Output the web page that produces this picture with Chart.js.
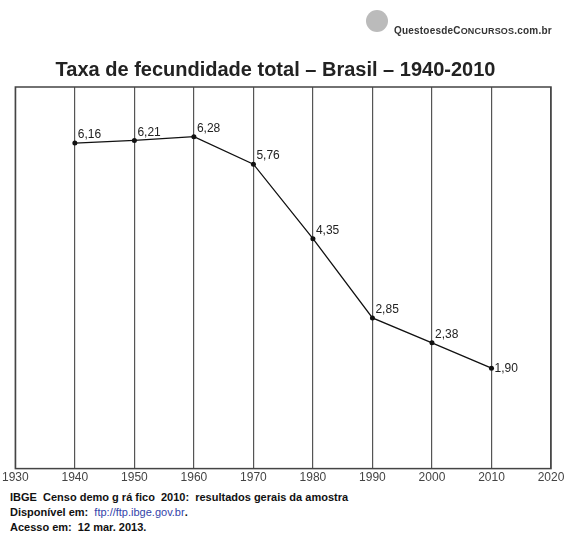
<!DOCTYPE html>
<html><head><meta charset="utf-8">
<script src="https://cdn.jsdelivr.net/npm/chart.js@4"></script>
<style>
body{margin:0;background:#fff;font-family:"Liberation Sans",Arial,sans-serif}
#wrap{position:relative;width:570px;height:487px}
#logo{position:absolute;left:362px;top:10px;width:200px;height:30px}
#logo .ic{position:absolute;left:4px;top:0;width:22px;height:22px;border-radius:50%;background:#bbb}
#logo .t{position:absolute;left:32px;top:15px;font-size:10px;font-weight:bold;color:#333;letter-spacing:0.2px}
#foot{position:absolute;left:10px;top:490px;font-size:11px;font-weight:bold;line-height:15px;color:#111}
#foot span{color:#3344aa;font-weight:normal}
</style></head><body>
<div id="wrap"><canvas id="c"></canvas>
<div id="logo"><div class="ic"></div><div class="t">QuestoesdeC<span style="font-size:9px">ONCURSOS</span>.com.br</div></div></div>
<div id="foot">IBGE&nbsp; Censo demo g rá fico&nbsp; 2010:&nbsp; resultados gerais da amostra<br>Disponível em:&nbsp; <span>ftp://ftp.ibge.gov.br</span>.<br>Acesso em:&nbsp; 12 mar. 2013.</div>
<script>
var years = [1940, 1950, 1960, 1970, 1980, 1990, 2000, 2010];
var rates = [6.16, 6.21, 6.28, 5.76, 4.35, 2.85, 2.38, 1.90];
var rateLabels = ['6,16', '6,21', '6,28', '5,76', '4,35', '2,85', '2,38', '1,90'];

var extras = {
  id: 'extras',
  afterDatasetsDraw: function(chart) {
    var ctx = chart.ctx, a = chart.chartArea;
    var xs = chart.scales.x, ys = chart.scales.y;
    ctx.save();
    ctx.strokeStyle = '#444'; ctx.lineWidth = 1.5;
    ctx.strokeRect(a.left, a.top, a.right - a.left, a.bottom - a.top);
    ctx.fillStyle = '#222'; ctx.font = '12px "Liberation Sans", Arial';
    ctx.textBaseline = 'middle'; ctx.textAlign = 'left';
    years.forEach(function(y, i) {
      var px = xs.getPixelForValue(y), py = ys.getPixelForValue(rates[i]);
      var dy = i === years.length - 1 ? 1 : -8;
      ctx.fillText(rateLabels[i], px + 3, py + dy);
    });
    ctx.restore();
  }
};

new Chart(document.getElementById('c'), {
  type: 'line',
  data: { datasets: [{
    data: years.map(function(y, i) { return { x: y, y: rates[i] }; }),
    borderColor: '#111', borderWidth: 1.3, backgroundColor: '#111',
    pointRadius: 2.5, pointBorderWidth: 0, tension: 0
  }]},
  options: {
    responsive: true, maintainAspectRatio: false, animation: false,
    layout: { padding: { left: 0, right: 19, bottom: 0 } },
    plugins: {
      legend: { display: false }, tooltip: { enabled: false },
      title: { display: true, text: 'Taxa de fecundidade total – Brasil – 1940-2010',
        color: '#222', font: { size: 20, weight: 'bold', family: '"Liberation Sans", Arial' },
        padding: { top: 58, bottom: 5 } }
    },
    scales: {
      x: { type: 'linear', min: 1930, max: 2020,
        ticks: { stepSize: 10, color: '#444', padding: 2, font: { size: 12 },
          callback: function(v) { return String(v); } },
        grid: { color: '#555', lineWidth: 1.2, drawTicks: false }, border: { display: false } },
      y: { min: 0, max: 7.22, display: false }
    }
  },
  plugins: [extras]
});
</script></body></html>
